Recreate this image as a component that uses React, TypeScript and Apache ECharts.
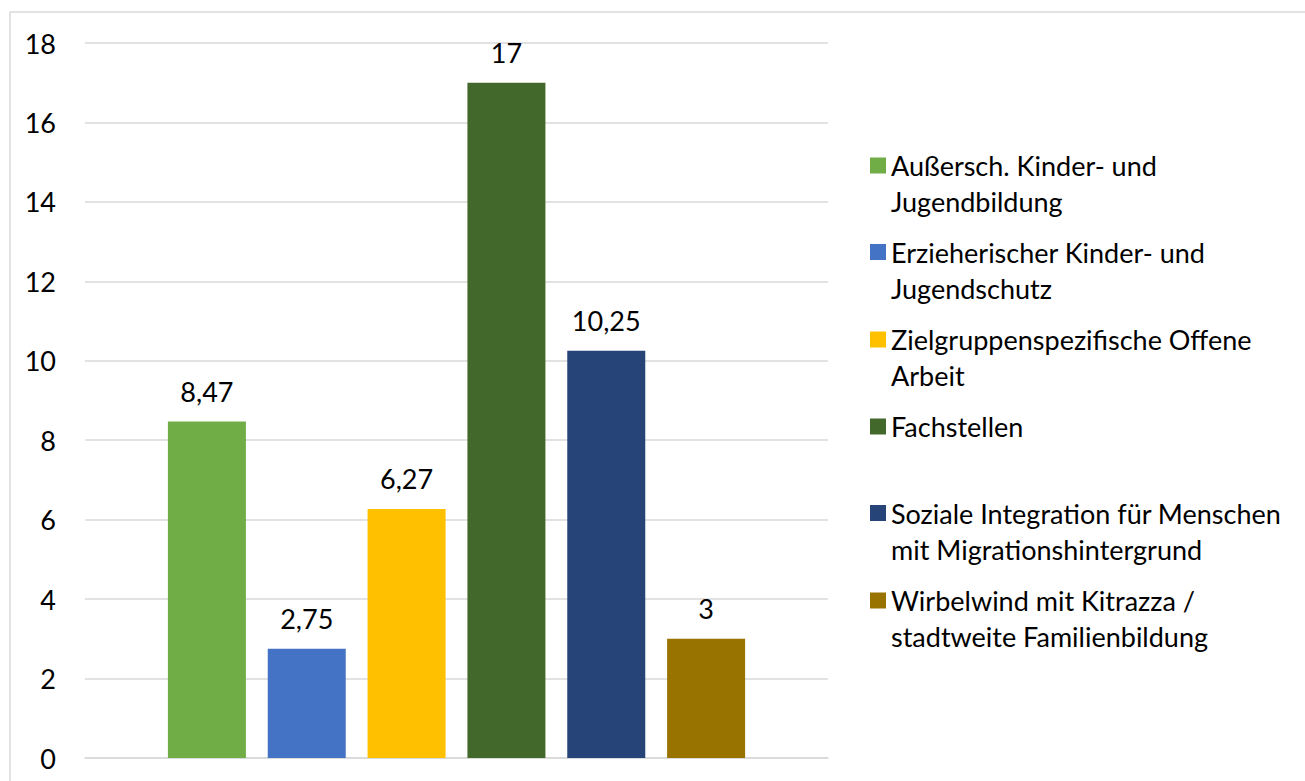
import React, { useEffect, useRef } from "react";
import * as echarts from "echarts";

const seriesNames = [
  "Außersch. Kinder- und Jugendbildung",
  "Erzieherischer Kinder- und Jugendschutz",
  "Zielgruppenspezifische Offene Arbeit",
  "Fachstellen",
  "Soziale Integration für Menschen mit Migrationshintergrund",
  "Wirbelwind mit Kitrazza / stadtweite Familienbildung",
];
const legendLabels = [
  "Außersch. Kinder- und\nJugendbildung",
  "Erzieherischer Kinder- und\nJugendschutz",
  "Zielgruppenspezifische Offene\nArbeit",
  "Fachstellen\n ",
  "Soziale Integration für Menschen\nmit Migrationshintergrund",
  "Wirbelwind mit Kitrazza /\nstadtweite Familienbildung",
];
const values = [8.47, 2.75, 6.27, 17, 10.25, 3];
const colors = ["#70AD47", "#4472C4", "#FFC000", "#43682B", "#264478", "#997300"];
const categories = [""];
const yMin = 0;
const yMax = 18;
const yStep = 2;

const FONT = "Lato";
const FS = 27;
const legendMarkerCenters = [165.5, 252, 339.5, 426.5, 513, 600.5];

export default function App() {
  const ref = useRef<HTMLDivElement>(null);
  useEffect(() => {
    if (!ref.current) return;
    const chart = echarts.init(ref.current, undefined, { renderer: "svg" });
    const fmt = (v: number) => String(v).replace(".", ",");
    const option: any = {
      animation: false,
      backgroundColor: "#ffffff",
      textStyle: { fontFamily: FONT },
      grid: { left: 85, right: 477, top: 43, bottom: 23, containLabel: false },
      xAxis: {
        type: "category",
        data: categories,
        axisTick: { show: false },
        axisLabel: { show: false },
        axisLine: { lineStyle: { color: "#d9d9d9", width: 1.5 } },
      },
      yAxis: {
        type: "value",
        min: yMin,
        max: yMax,
        interval: yStep,
        axisLine: { show: false },
        axisTick: { show: false },
        axisLabel: {
          margin: 29,
          color: "#000",
          fontSize: FS,
          fontFamily: FONT,
        },
        splitLine: { lineStyle: { color: "#d9d9d9", width: 1.5 } },
      },
      legend: seriesNames.map((name, i) => ({
        data: [name],
        orient: "vertical",
        left: 870,
        top: legendMarkerCenters[i] - 8 - 46,
        padding: 0,
        icon: "rect",
        itemWidth: 16,
        itemHeight: 16,
        itemGap: 0,
        selectedMode: false,
        formatter: () => " \n" + legendLabels[i],
        textStyle: {
          fontSize: FS,
          fontFamily: FONT,
          color: "#000",
          lineHeight: 36,
        },
      })),
      graphic: [
        {
          type: "rect",
          shape: { x: 10, y: 12, width: 1400, height: 900 },
          style: { fill: "none", stroke: "#d9d9d9", lineWidth: 1.5 },
          silent: true,
        },
      ],
      series: seriesNames.map((name, i) => ({
        type: "bar",
        name,
        data: [values[i]],
        barWidth: 78,
        barGap: "28%",
        itemStyle: { color: colors[i] },
        label: {
          show: true,
          position: "top",
          distance: 17,
          color: "#000",
          fontSize: FS,
          fontFamily: FONT,
          formatter: (p: any) => fmt(p.value),
        },
      })),
    };
    chart.setOption(option);
    return () => chart.dispose();
  }, []);
  return (
    <div
      ref={ref}
      style={{ position: "absolute", left: 0, top: 0, width: 1305, height: 781 }}
    />
  );
}
